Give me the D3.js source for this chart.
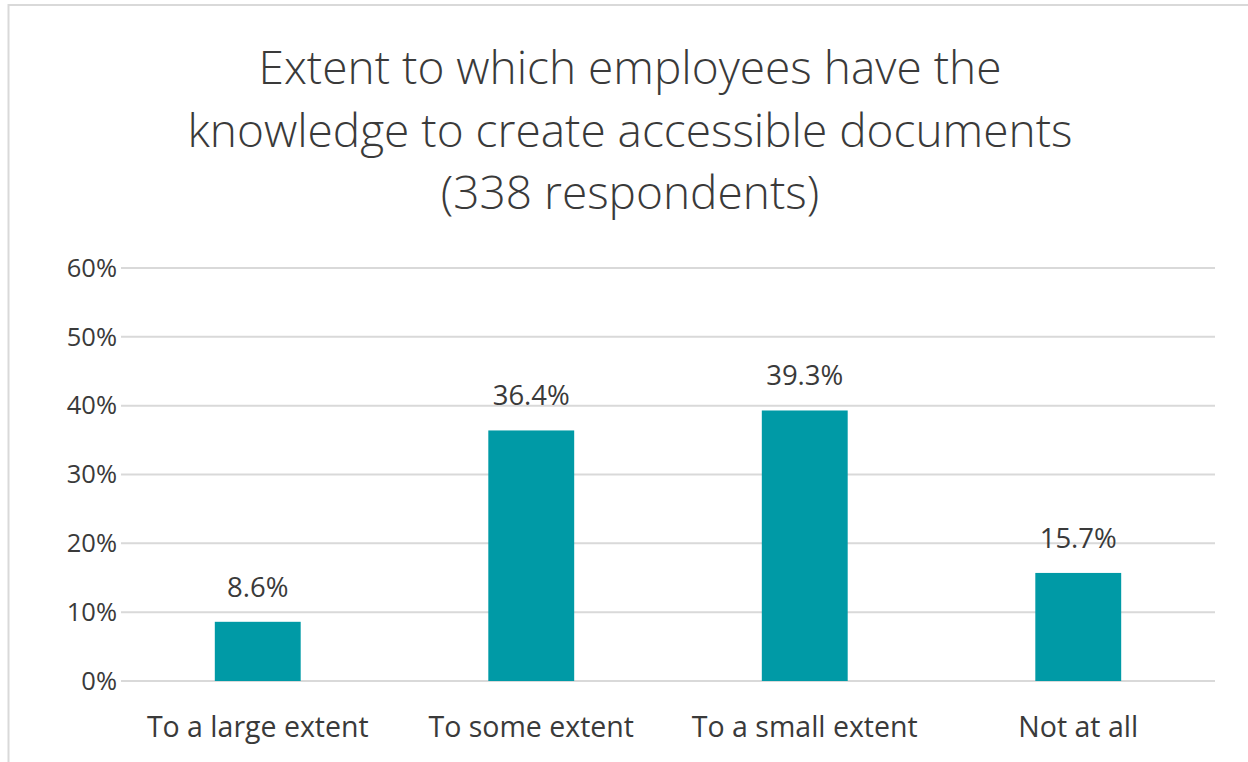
<!DOCTYPE html>
<html>
<head>
<meta charset="utf-8">
<script src="https://cdn.jsdelivr.net/npm/d3@7"></script>
<style>
  html, body { margin: 0; padding: 0; background: #fff; }
  svg { display: block; }
</style>
</head>
<body>
<svg id="chart" width="1248" height="762"></svg>
<script>
// Survey results: share of respondents per answer
const titleLines = [
  "Extent to which employees have the",
  "knowledge to create accessible documents",
  "(338 respondents)"
];
const categories = ["To a large extent", "To some extent", "To a small extent", "Not at all"];
const shares = [8.6, 36.4, 39.3, 15.7];
const yTicks = [0, 10, 20, 30, 40, 50, 60];

const W = 1248, H = 762;
const margin = { top: 268, right: 33, bottom: 81, left: 121 };
const textColor = "#3a3a3a";
const font = "'Open Sans', 'Noto Sans', sans-serif";

const svg = d3.select("#chart");

// chart area outline (open to the right and bottom edges)
svg.append("rect")
  .attr("x", 8.5).attr("y", 5)
  .attr("width", W + 20).attr("height", H + 20)
  .attr("fill", "none")
  .attr("stroke", "#d9d9d9")
  .attr("stroke-width", 2);

// title
svg.append("g")
  .selectAll("text")
  .data(titleLines)
  .join("text")
  .attr("x", 630)
  .attr("y", (d, i) => 84 + i * 62.5)
  .attr("text-anchor", "middle")
  .attr("font-family", font)
  .attr("font-weight", 300)
  .attr("font-size", 46)
  .attr("fill", textColor)
  .text(d => d);

const x = d3.scaleBand()
  .domain(categories)
  .range([margin.left, W - margin.right])
  .paddingInner(0.686)
  .paddingOuter(0.343);

const y = d3.scaleLinear()
  .domain([0, 60])
  .range([H - margin.bottom, margin.top]);

// horizontal gridlines
svg.append("g")
  .selectAll("line")
  .data(yTicks)
  .join("line")
  .attr("x1", margin.left)
  .attr("x2", W - margin.right)
  .attr("y1", d => y(d))
  .attr("y2", d => y(d))
  .attr("stroke", "#d9d9d9")
  .attr("stroke-width", 2);

// y axis labels
const yAxis = d3.axisLeft(y)
  .tickValues(yTicks)
  .tickFormat(d => d + "%")
  .tickSize(0)
  .tickPadding(4);

svg.append("g")
  .attr("transform", `translate(${margin.left},0)`)
  .call(yAxis)
  .call(g => g.select(".domain").remove())
  .call(g => g.selectAll("text")
    .attr("font-family", font)
    .attr("font-size", 25.5)
    .attr("fill", textColor));

// bars
svg.append("g")
  .selectAll("rect")
  .data(categories)
  .join("rect")
  .attr("x", d => x(d))
  .attr("width", x.bandwidth())
  .attr("y", (d, i) => y(shares[i]))
  .attr("height", (d, i) => y(0) - y(shares[i]))
  .attr("fill", "#009aa6");

// value labels
svg.append("g")
  .selectAll("text")
  .data(categories)
  .join("text")
  .attr("x", d => x(d) + x.bandwidth() / 2)
  .attr("y", (d, i) => y(shares[i]) - 25)
  .attr("text-anchor", "middle")
  .attr("font-family", font)
  .attr("font-size", 27.5)
  .attr("fill", textColor)
  .text((d, i) => shares[i].toFixed(1) + "%");

// category axis labels
const xAxis = d3.axisBottom(x).tickSize(0).tickPadding(0);
svg.append("g")
  .attr("transform", `translate(0,${H - margin.bottom})`)
  .call(xAxis)
  .call(g => g.select(".domain").remove())
  .call(g => g.selectAll("text")
    .attr("dy", null)
    .attr("y", 56)
    .attr("font-family", font)
    .attr("font-size", 28.5)
    .attr("fill", textColor));
</script>
</body>
</html>
